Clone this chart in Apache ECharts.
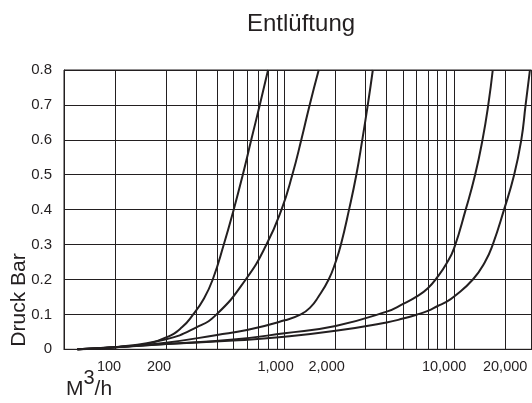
<!DOCTYPE html>
<html>
<head>
<meta charset="utf-8">
<script src="https://cdn.jsdelivr.net/npm/echarts@6/dist/echarts.min.js"></script>
<style>html,body{margin:0;padding:0;background:#fff}#c{width:532px;height:403px}</style>
</head>
<body>
<div id="c"></div>
<script>
// ---- data ----
var titleText = 'Entlüftung';
var yName = 'Druck Bar';
var gridXValues = [100,200,300,400,500,600,700,800,900,1000,2000,3000,4000,5000,6000,7000,8000,9000,10000,20000];
var labelXValues = [100,200,1000,2000,10000,20000];
var labelXText = {100:'100',200:'200',1000:'1,000',2000:'2,000',10000:'10,000',20000:'20,000'};
var seriesNames = ['2″','3″','4″','6″','8″'];
var s2 = [[60,0],[100,0.006],[140,0.012],[200,0.034],[248,0.063],[289,0.1],[334,0.145],[377,0.2],[438,0.3],[501,0.4],[567,0.5],[636,0.6],[714,0.7],[799,0.8]];
var s3 = [[60,0],[100,0.006],[200,0.029],[300,0.062],[397,0.1],[590,0.2],[782,0.3],[959,0.4],[1111,0.5],[1255,0.6],[1406,0.7],[1590,0.8]];
var s4 = [[60,0],[100,0.006],[200,0.019],[400,0.041],[600,0.055],[1000,0.083],[1247,0.1],[1418,0.12],[1580,0.15],[1820,0.2],[2000,0.25],[2150,0.3],[2400,0.4],[2650,0.5],[2873,0.6],[3096,0.7],[3315,0.8]];
var s6 = [[60,0],[100,0.006],[200,0.015],[500,0.028],[1000,0.046],[2000,0.067],[4000,0.108],[5000,0.13],[6000,0.151],[7000,0.175],[8000,0.208],[9000,0.245],[10000,0.29],[11700,0.4],[13300,0.5],[14700,0.6],[15900,0.7],[16900,0.8]];
var s8 = [[60,0],[100,0.006],[200,0.015],[500,0.025],[1000,0.036],[2000,0.053],[4000,0.077],[5000,0.088],[6000,0.099],[7000,0.11],[8000,0.124],[9000,0.136],[10000,0.151],[12900,0.2],[15200,0.25],[16900,0.3],[19700,0.4],[22600,0.5],[24900,0.6],[26400,0.7],[28000,0.8]];
var seriesData = [s2,s3,s4,s6,s8];
var labelOffsets = [[-2,0],[-4,0],[-6,0],[-4,0],[-5,0]];
var labelShift = {100:6,200:7,1000:9,2000:9,10000:10,20000:0};

var ink = '#231f20';
var font = '"Liberation Sans", Arial, sans-serif';

var chart = echarts.init(document.getElementById('c'));
var series = seriesData.map(function(d, i){
  var data = d.map(function(p, j){
    if (j === d.length - 1) {
      return {value: p, label: {show: true, position: 'top', distance: 2, offset: labelOffsets[i],
        formatter: seriesNames[i], fontSize: 14, color: ink, fontFamily: font}};
    }
    return p;
  });
  return {
    name: seriesNames[i], type: 'line', smooth: 0.5, symbol: 'none', showSymbol: false,
    data: data, clip: false,
    lineStyle: {color: ink, width: 2}, itemStyle: {color: ink},
    label: {show: false}
  };
});

var richX = {};
[0,6,7,9,10].forEach(function(s){
  richX['p' + s] = {fontSize: 14.5, color: ink, fontFamily: font, padding: [0, 2 * s, 0, 0]};
});

chart.setOption({
  animation: false,
  backgroundColor: '#fff',
  title: {text: titleText, left: 242, top: 7, textStyle: {fontSize: 24, fontWeight: 'normal', color: ink, fontFamily: font}},
  grid: {left: 64, right: 0.5, top: 70, bottom: 53.7, show: true, borderColor: ink, borderWidth: 1, backgroundColor: 'transparent'},
  xAxis: {
    type: 'log', logBase: 10, min: 50, max: 28600,
    axisLine: {show: true, lineStyle: {color: ink, width: 1}},
    axisTick: {show: false, customValues: gridXValues},
    axisLabel: {customValues: labelXValues, margin: 10, fontSize: 14.5, color: ink, fontFamily: font, rich: richX,
      formatter: function(v){ var k = Math.round(v); var t = labelXText[k]; return t ? '{p' + labelShift[k] + '|' + t + '}' : ''; }},
    splitLine: {show: true, lineStyle: {color: ink, width: 1}}
  },
  yAxis: {
    type: 'value', min: 0, max: 0.8, interval: 0.1,
    axisLine: {show: true, lineStyle: {color: ink, width: 1}},
    axisTick: {show: false},
    axisLabel: {margin: 12, fontSize: 15, color: ink, fontFamily: font},
    splitLine: {show: true, lineStyle: {color: ink, width: 1}}
  },
  graphic: [
    {type: 'text', x: 19, y: 300, rotation: Math.PI / 2,
      style: {text: yName, fontSize: 21, fill: ink, fontFamily: font, textAlign: 'center', textVerticalAlign: 'middle'}},
    {type: 'text', x: 66, y: 400,
      style: {text: '{m|M}{s|3}{m|/h}', fill: ink, fontFamily: font, textAlign: 'left', textVerticalAlign: 'bottom',
        rich: {m: {fontSize: 21, fontFamily: font, fill: ink, verticalAlign: 'bottom', lineHeight: 34},
               s: {fontSize: 20, fontFamily: font, fill: ink, verticalAlign: 'bottom', lineHeight: 34, padding: [0, 0, 12, 0]}}}}
  ],
  series: series
});
</script>
</body>
</html>
